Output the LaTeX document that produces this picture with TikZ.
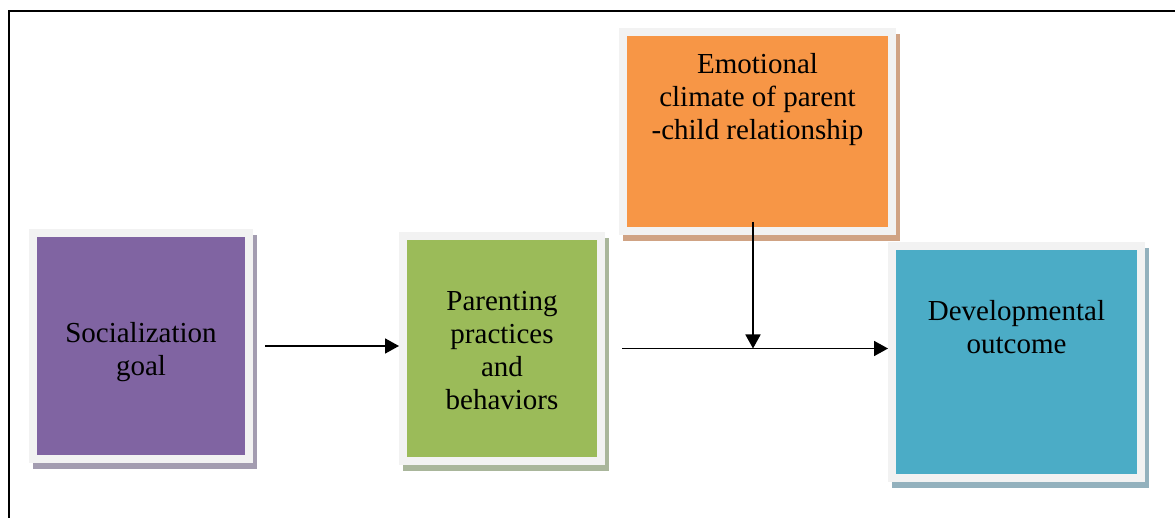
\documentclass[tikz,border=0pt]{standalone}
\usepackage{fontspec}
\setmainfont{Liberation Serif}
\usetikzlibrary{arrows.meta,shadows,calc,positioning}
\definecolor{rim}{HTML}{F2F2F2}
\definecolor{goalfill}{HTML}{8064A2}
\definecolor{goalshade}{HTML}{A39CB0}
\definecolor{practicefill}{HTML}{9BBB59}
\definecolor{practiceshade}{HTML}{A9B69B}
\definecolor{climatefill}{HTML}{F79646}
\definecolor{climateshade}{HTML}{D0A384}
\definecolor{outcomefill}{HTML}{4BACC6}
\definecolor{outcomeshade}{HTML}{93B1BD}
\tikzset{inset/.style={path picture={\fill[#1] ([shift={(8pt,-8pt)}]path picture bounding box.north west) rectangle ([shift={(-8pt,8pt)}]path picture bounding box.south east);}}}
\tikzstyle{box} = [rectangle, fill=rim, outer sep=0pt, inner sep=0pt]
\tikzstyle{boxtext} = [anchor=north, align=center, inner sep=0pt, font=\fontsize{29}{33}\selectfont]
\tikzstyle{socialbox} = [box, minimum width=224pt, minimum height=234pt, inset=goalfill, drop shadow={shadow xshift=4pt, shadow yshift=-6pt, fill=goalshade, opacity=1}]
\tikzstyle{practicebox} = [box, minimum width=206pt, minimum height=233pt, inset=practicefill, drop shadow={shadow xshift=4pt, shadow yshift=-6pt, fill=practiceshade, opacity=1}]
\tikzstyle{climatebox} = [box, minimum width=277pt, minimum height=207pt, inset=climatefill, drop shadow={shadow xshift=4pt, shadow yshift=-6pt, fill=climateshade, opacity=1}]
\tikzstyle{outcomebox} = [box, minimum width=257pt, minimum height=240pt, inset=outcomefill, drop shadow={shadow xshift=4pt, shadow yshift=-6pt, fill=outcomeshade, opacity=1}]
\tikzstyle{arrow} = [line width=1.8pt, ->, >={Triangle[length=14pt,width=15pt]}]

\begin{document}
\begin{tikzpicture}[x=1pt, y=-1pt]

\useasboundingbox (0,0) rectangle (1175,518);
\draw [line width=2pt] (8.5,518) -- (8.5,11) -- (1175,11);

\node (goal) [socialbox] at (141,346)
  [label={[boxtext, yshift=-93pt]north:Socialization\\goal}] {};
\node (practices) [practicebox] at (502,348.5)
  [label={[boxtext, yshift=-59pt]north:Parenting\\practices\\and\\behaviors}] {};
\node (climate) [climatebox] at (757.5,131.5)
  [label={[boxtext, yshift=-25pt]north:Emotional\\climate of parent\\-child relationship}] {};
\node (outcome) [outcomebox] at (1016.5,362)
  [label={[boxtext, yshift=-58pt]north:Developmental\\outcome}] {};

\coordinate (join) at ([xshift=-4.5pt]climate.south |- practices.east);

\draw [arrow] ([xshift=12pt]goal.east) -- (goal.east -| practices.west);
\draw [arrow] ([xshift=17pt]practices.east) -- (practices.east -| outcome.west);
\draw [arrow] ([yshift=13pt]join |- climate.south) -- (join);

\end{tikzpicture}
\end{document}
